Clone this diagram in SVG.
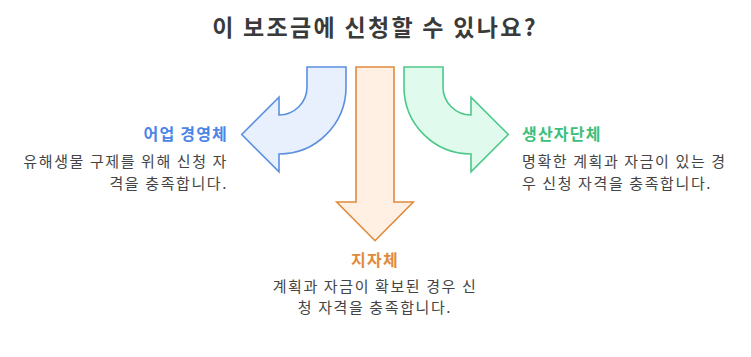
<svg xmlns="http://www.w3.org/2000/svg" width="751" height="357" viewBox="0 0 751 357">
<style>
text{font-family:"Noto Sans CJK KR","Noto Sans",sans-serif}
.title{font-size:23px;font-weight:700;fill:#3a3a3a;letter-spacing:2.3px}
.lbl{font-size:16px;font-weight:700;letter-spacing:1.2px}
.desc{font-size:15px;fill:#444;letter-spacing:1.6px}
.arr{stroke-width:1.6;stroke-linejoin:miter}
</style>
<rect width="751" height="357" fill="#fff"/>
<text class="title" x="375" y="36" text-anchor="middle">이 보조금에 신청할 수 있나요?</text>
<g id="connectors">
<path id="arrow-blue" class="arr" fill="#e8f0fd" stroke="#5b8fe0" d="M307,67 H346 V87 A67,67 0 0 1 279,154 V171.7 L241.7,134.5 L279,97.3 V115 A28,28 0 0 0 307,87 Z"/>
<path id="arrow-orange" class="arr" fill="#fff0e3" stroke="#e08a3c" d="M356,67 H394 V202 H413.3 L375,240.7 L336.7,202 H356 Z"/>
<path id="arrow-green" class="arr" fill="#e0fbee" stroke="#4cc88a" d="M443,67 H404 V87 A67,67 0 0 0 471,154 V171.7 L508.3,134.5 L471,97.3 V115 A28,28 0 0 1 443,87 Z"/>
</g>
<g id="node-fishery">
<text class="lbl" x="228" y="140" text-anchor="end" fill="#4a86e8">어업 경영체</text>
<text class="desc" x="228" y="167" text-anchor="end">유해생물 구제를 위해 신청 자</text>
<text class="desc" x="228" y="189" text-anchor="end">격을 충족합니다.</text>
</g>
<g id="node-local">
<text class="lbl" x="375" y="266" text-anchor="middle" fill="#e08a3c">지자체</text>
<text class="desc" x="375" y="292" text-anchor="middle">계획과 자금이 확보된 경우 신</text>
<text class="desc" x="375" y="313" text-anchor="middle">청 자격을 충족합니다.</text>
</g>
<g id="node-producer">
<text class="lbl" x="522" y="140" fill="#3dbf7c">생산자단체</text>
<text class="desc" x="522" y="167">명확한 계획과 자금이 있는 경</text>
<text class="desc" x="522" y="189">우 신청 자격을 충족합니다.</text>
</g>
</svg>
